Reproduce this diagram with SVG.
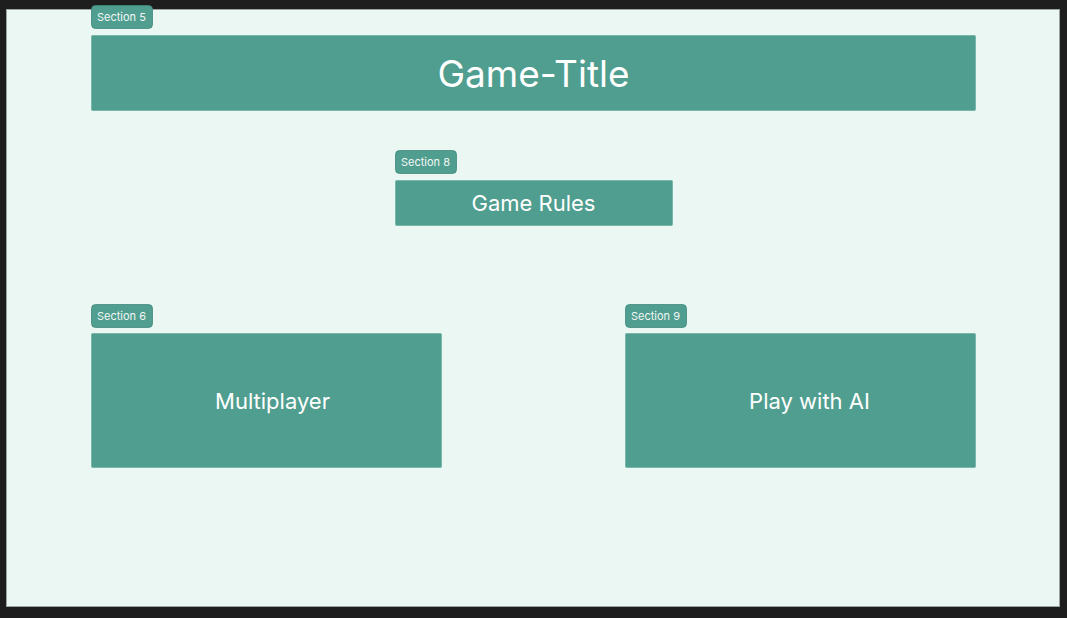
<svg xmlns="http://www.w3.org/2000/svg" width="1067" height="618" viewBox="0 0 1067 618">
  <style>
    .canvas { fill: #ebf7f3; stroke: #9aa5a1; stroke-width: 1; }
    .box { fill: #509e8f; stroke: #6fb3a5; stroke-width: 0.8; }
    .tag { fill: #509e8f; stroke: #3f8a7b; stroke-width: 0.8; }
    .tag-text { font-family: Inter, "Noto Sans", sans-serif; font-size: 11px; fill: #f2f7f5; }
    .label { font-family: Inter, "Noto Sans", sans-serif; fill: #ffffff; text-anchor: middle; dominant-baseline: central; }
  </style>
  <rect x="0" y="0" width="1067" height="618" fill="#1e1e1e"/>
  <rect class="canvas" x="6.5" y="9.5" width="1053" height="597"/>

  <g id="section-5">
    <rect class="tag" x="91.5" y="5.5" width="61" height="23" rx="4"/>
    <text class="tag-text" x="97" y="21">Section 5</text>
    <rect class="box" x="91.5" y="35.5" width="884" height="75" rx="1"/>
    <text class="label" x="533.5" y="73" font-size="37">Game-Title</text>
  </g>

  <g id="section-8">
    <rect class="tag" x="395.5" y="150.5" width="61" height="23" rx="4"/>
    <text class="tag-text" x="401" y="166">Section 8</text>
    <rect class="box" x="395.5" y="180.5" width="277" height="45" rx="1"/>
    <text class="label" x="533.5" y="202.5" font-size="22">Game Rules</text>
  </g>

  <g id="section-6">
    <rect class="tag" x="91.5" y="304.5" width="61" height="23" rx="4"/>
    <text class="tag-text" x="97" y="320">Section 6</text>
    <rect class="box" x="91.5" y="333.5" width="350" height="134" rx="1"/>
    <text class="label" x="272.5" y="400.5" font-size="22">Multiplayer</text>
  </g>

  <g id="section-9">
    <rect class="tag" x="625.5" y="304.5" width="61" height="23" rx="4"/>
    <text class="tag-text" x="631" y="320">Section 9</text>
    <rect class="box" x="625.5" y="333.5" width="350" height="134" rx="1"/>
    <text class="label" x="809.5" y="400.5" font-size="22">Play with AI</text>
  </g>

  <g id="connectors"></g>
</svg>
